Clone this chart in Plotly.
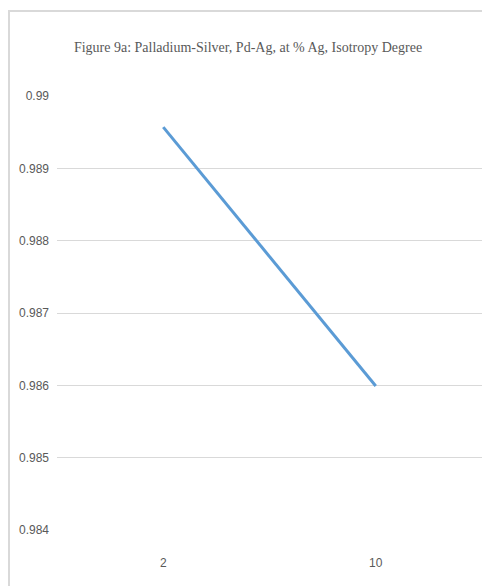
import plotly.graph_objects as go

categories = ["2", "10"]
isotropy = [0.98957, 0.98599]
y_ticks = [0.984, 0.985, 0.986, 0.987, 0.988, 0.989, 0.99]
y_tick_labels = ["0.984", "0.985", "0.986", "0.987", "0.988", "0.989", "0.99"]
title_text = "Figure 9a: Palladium-Silver, Pd-Ag, at % Ag, Isotropy Degree"

# the page body has an 8px default margin, so the figure is sized to fit the window
OFF = 8
W, H = 490 - OFF, 586 - OFF
ML, MR, MT, MB = 57 - OFF, 8, 96 - OFF, 56
pw = W - ML - MR
ph = H - MT - MB

fig = go.Figure()
fig.add_trace(go.Scatter(
    x=categories, y=isotropy, mode="lines",
    line=dict(color="#5B9BD5", width=3),
    showlegend=False, hoverinfo="x+y",
))

tick_font = dict(family="Liberation Sans, Arial, sans-serif", size=12, color="#595959")

# outer chart border (left/top visible)
bx0 = (9 - OFF - ML) / pw
by1 = (H - MB - (11 - OFF)) / ph
fig.add_shape(type="rect", xref="paper", yref="paper",
              x0=bx0, x1=bx0 + 3, y0=by1 - 3, y1=by1,
              line=dict(color="#D9D9D9", width=2), fillcolor="rgba(0,0,0,0)", layer="below")

fig.update_layout(
    width=W, height=H,
    margin=dict(l=ML, r=MR, t=MT, b=MB, autoexpand=False),
    paper_bgcolor="white", plot_bgcolor="white",
    title=dict(text=title_text, x=(248 - OFF) / W, xanchor="center",
               y=1 - (47 - OFF) / H, yanchor="middle",
               font=dict(family="Liberation Serif, Times New Roman, serif", size=14, color="#595959")),
    xaxis=dict(type="category", range=[-0.5, 1.5], showgrid=False, zeroline=False,
               showline=False, ticks="", tickfont=tick_font, ticklabelstandoff=24,
               automargin=False),
    yaxis=dict(range=[0.984, 0.99], tickvals=y_ticks, ticktext=y_tick_labels,
               showgrid=True, gridcolor="#D9D9D9", gridwidth=1, zeroline=False,
               showline=False, ticks="", tickfont=tick_font, ticklabelstandoff=7,
               automargin=False),
)

fig.write_html("out.html")
